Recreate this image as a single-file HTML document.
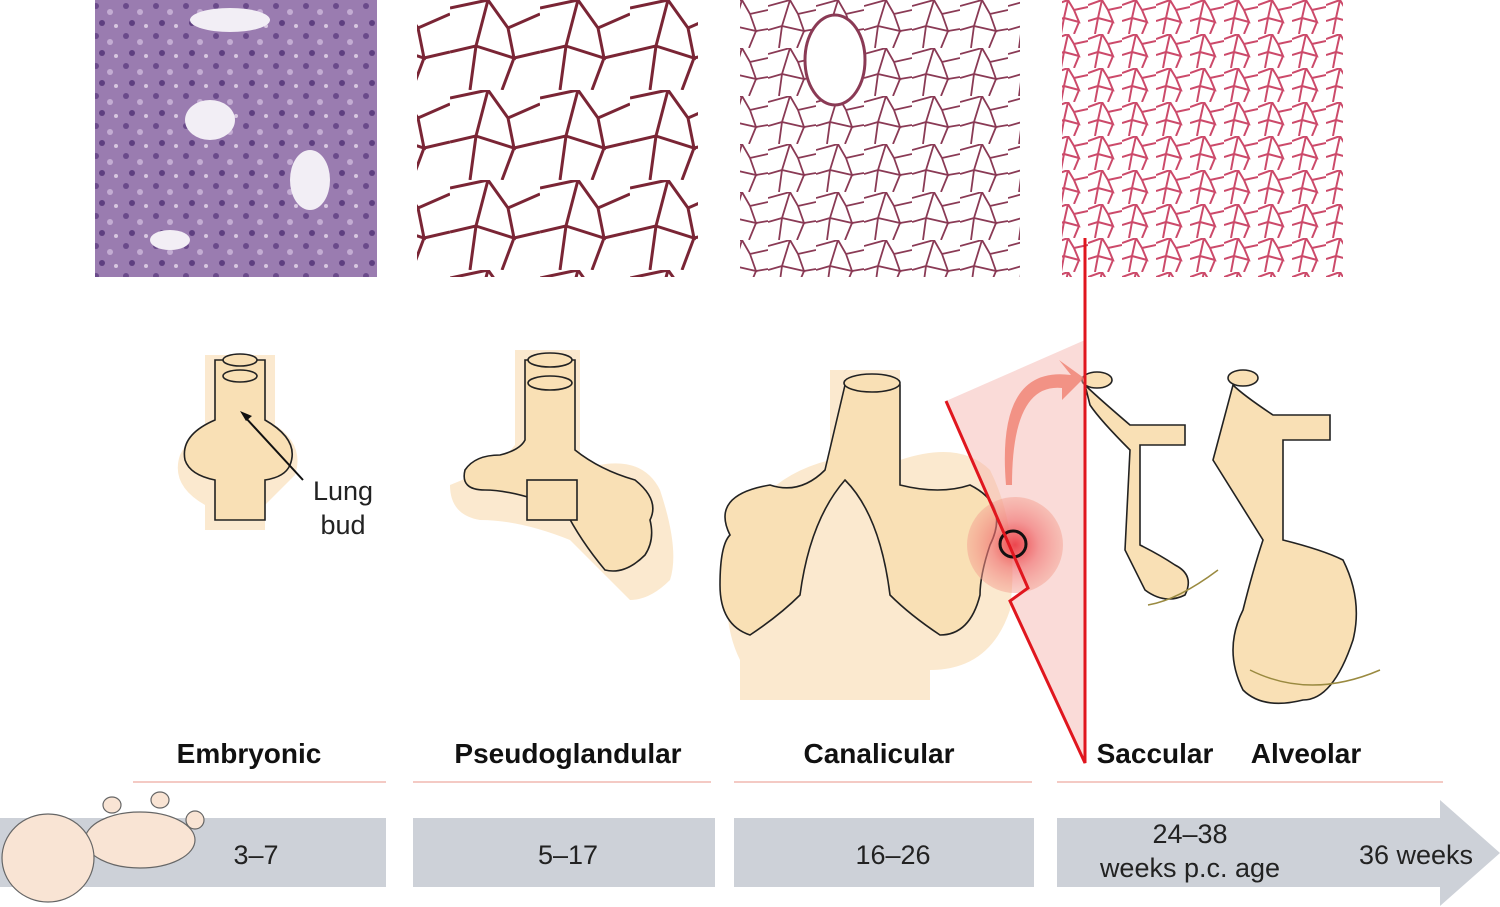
<!DOCTYPE html>
<html><head><meta charset="utf-8"><style>
body{margin:0;width:1500px;height:907px;background:#fff;overflow:hidden;font-family:"Liberation Sans",sans-serif;}
svg{position:absolute;left:0;top:0}
</style></head><body>
<svg width="1500" height="907" viewBox="0 0 1500 907">
<defs>
<pattern id="p1" width="30" height="30" patternUnits="userSpaceOnUse">
<rect width="30" height="30" fill="#9a7cb0"/>
<circle cx="6" cy="6" r="3" fill="#6a4a8a"/><circle cx="20" cy="12" r="3" fill="#c3acd2"/><circle cx="12" cy="23" r="3" fill="#5e3f80"/><circle cx="26" cy="26" r="2" fill="#d8c8e0"/>
</pattern>
<pattern id="p2" width="90" height="90" patternUnits="userSpaceOnUse">
<rect width="90" height="90" fill="#fff"/>
<path d="M0 8 L38 0 L58 28 L90 14 M38 0 L26 46 L0 52 M26 46 L64 58 L58 28 M64 58 L90 52 M64 58 L52 90 M26 46 L20 90" stroke="#7a2535" stroke-width="3" fill="none"/>
</pattern>
<pattern id="p3" width="48" height="48" patternUnits="userSpaceOnUse">
<rect width="48" height="48" fill="#fff"/>
<path d="M0 6 L22 0 L30 14 L48 10 M22 0 L14 26 L0 30 M14 26 L36 31 L30 14 M36 31 L48 29 M36 31 L29 48 M14 26 L11 48" stroke="#8a3a55" stroke-width="1.8" fill="none"/>
</pattern>
<pattern id="p4" width="34" height="34" patternUnits="userSpaceOnUse">
<rect width="34" height="34" fill="#fff"/>
<path d="M0 5 L14 0 L20 10 L34 7 M14 0 L10 18 L0 21 M10 18 L25 22 L20 10 M25 22 L20 34 M10 18 L7 34" stroke="#cc4a6a" stroke-width="2" fill="none"/>
</pattern>
<radialGradient id="glow"><stop offset="0" stop-color="#e8202a"/><stop offset="0.5" stop-color="#f07070" stop-opacity="0.8"/><stop offset="1" stop-color="#f4a090" stop-opacity="0.6"/></radialGradient>
</defs>
<rect x="95" y="0" width="282" height="277" fill="url(#p1)"/>
<ellipse cx="210" cy="120" rx="25" ry="20" fill="#f2eef5"/><ellipse cx="230" cy="20" rx="40" ry="12" fill="#f2eef5"/><ellipse cx="310" cy="180" rx="20" ry="30" fill="#f2eef5"/><ellipse cx="170" cy="240" rx="20" ry="10" fill="#f2eef5"/>
<rect x="417" y="0" width="281" height="277" fill="url(#p2)"/>
<rect x="740" y="0" width="280" height="277" fill="url(#p3)"/>
<ellipse cx="835" cy="60" rx="30" ry="45" fill="#fff" stroke="#8a3a55" stroke-width="3"/>
<rect x="1062" y="0" width="281" height="277" fill="url(#p4)"/>

<g stroke="none">
<path d="M205 355 h70 v70 q30 20 20 50 q-20 20 -30 30 v25 h-60 v-25 q-35 -20 -25 -50 q10 -20 25 -30z" fill="#fbe9cf"/>
<path d="M515 350 h65 v120 q60 -20 80 20 q20 60 10 90 q-20 20 -40 20 q-40 -40 -60 -60 q-50 -20 -90 -20 q-30 -5 -30 -35 q50 -20 65 -40z" fill="#fbe9cf"/>
<path d="M830 370 h70 v90 q60 -20 90 10 q30 60 20 140 q-20 60 -80 60 v30 h-190 v-40 q-20 -40 -10 -100 q20 -80 100 -100z" fill="#fbe9cf"/>
</g>
<g fill="#f9e0b5" stroke="#222" stroke-width="1.6">
<path d="M215 360 h50 v60 q35 20 25 45 q-5 12 -25 15 v40 h-50 v-40 q-25 -5 -30 -20 q-5 -25 30 -40z"/>
<ellipse cx="240" cy="360" rx="17" ry="6"/><ellipse cx="240" cy="376" rx="17" ry="6"/>
<path d="M525 360 h50 v90 q25 20 60 30 q25 20 15 40 q5 20 -5 35 q-20 20 -40 15 q-25 -30 -40 -60 q-50 -20 -80 -20 q-25 0 -20 -20 q10 -15 35 -15 q20 -5 25 -15z"/>
<ellipse cx="550" cy="360" rx="22" ry="7"/><ellipse cx="550" cy="383" rx="22" ry="7"/>
<rect x="527" y="480" width="50" height="40"/>
<path d="M845 385 h55 v100 q40 10 70 0 q40 20 20 60 q-10 30 -10 50 q-10 40 -40 40 q-30 -20 -50 -40 q-10 -80 -45 -115 q-35 40 -45 115 q-20 20 -50 40 q-30 -10 -30 -50 q0 -40 10 -50 q-20 -40 40 -50 q30 10 55 -15z"/>
<ellipse cx="872" cy="383" rx="28" ry="9"/>
<path d="M1085 385 q10 10 45 40 h55 v20 h-45 v100 q20 10 35 20 q20 10 10 30 q-20 10 -40 -5 q-10 -20 -20 -40 l5 -100 q-30 -30 -40 -45z"/>
<ellipse cx="1097" cy="380" rx="15" ry="8"/>
<path d="M1233 385 q10 10 40 30 h57 v25 h-47 v100 q40 10 60 20 q20 40 10 80 q-20 60 -50 60 q-40 10 -60 -10 q-20 -40 0 -80 q10 -40 20 -70 l-50 -80 z"/>
<ellipse cx="1243" cy="378" rx="15" ry="8"/>
</g>
<path d="M1148 605 q30 -5 70 -35" stroke="#9a8a40" fill="none" stroke-width="1.5"/>
<path d="M1250 670 q60 30 130 0" stroke="#9a8a40" fill="none" stroke-width="1.5"/>
<line x1="303" y1="480" x2="245" y2="417" stroke="#111" stroke-width="2"/>
<path d="M240 411 l12 5 l-6 5z" fill="#111"/>
<text x="343" y="500" font-size="27" text-anchor="middle" fill="#222">Lung</text>
<text x="343" y="534" font-size="27" text-anchor="middle" fill="#222">bud</text>

<path d="M946 401 L1085 340 L1085 763 L1010 601 L1028 588z" fill="#f4b0a8" opacity="0.45"/>
<circle cx="1015" cy="545" r="48" fill="url(#glow)" opacity="0.8"/>
<path d="M1006 485 q-10 -120 65 -110 l-12 -15 l25 18 l-22 22 l0 -12 q-50 -5 -50 97z" fill="#f08070" opacity="0.8"/>
<circle cx="1013" cy="544" r="13" fill="none" stroke="#111" stroke-width="3"/>
<path d="M946 401 L1028 588 L1010 601 L1085 763 L1085 238" fill="none" stroke="#e0161e" stroke-width="3"/>

<g font-size="28" font-weight="bold" fill="#111" text-anchor="middle">
<text x="249" y="763">Embryonic</text><text x="568" y="763">Pseudoglandular</text><text x="879" y="763">Canalicular</text><text x="1155" y="763">Saccular</text><text x="1306" y="763">Alveolar</text>
</g>
<g stroke="#f0b8b0" stroke-width="1.5">
<line x1="133" y1="782" x2="386" y2="782"/><line x1="413" y1="782" x2="711" y2="782"/><line x1="734" y1="782" x2="1032" y2="782"/><line x1="1057" y1="782" x2="1443" y2="782"/>
</g>
<g fill="#cdd1d8">
<rect x="0" y="818" width="386" height="69"/><rect x="413" y="818" width="302" height="69"/><rect x="734" y="818" width="300" height="69"/>
<path d="M1057 818 H1440 V800 L1500 853 L1440 906 V887 H1057z"/>
</g>
<g font-size="27" fill="#222" text-anchor="middle">
<text x="256" y="864">3–7</text><text x="568" y="864">5–17</text><text x="893" y="864">16–26</text>
<text x="1190" y="843">24–38</text><text x="1190" y="877">weeks p.c. age</text><text x="1416" y="864">36 weeks</text>
</g>
<g fill="#f9e4d4" stroke="#666" stroke-width="1.2">
<ellipse cx="140" cy="840" rx="55" ry="28"/>
<ellipse cx="48" cy="858" rx="46" ry="44"/>
<ellipse cx="112" cy="805" rx="9" ry="8"/><ellipse cx="160" cy="800" rx="9" ry="8"/><ellipse cx="195" cy="820" rx="9" ry="9"/>
</g>
</svg>
</body></html>
